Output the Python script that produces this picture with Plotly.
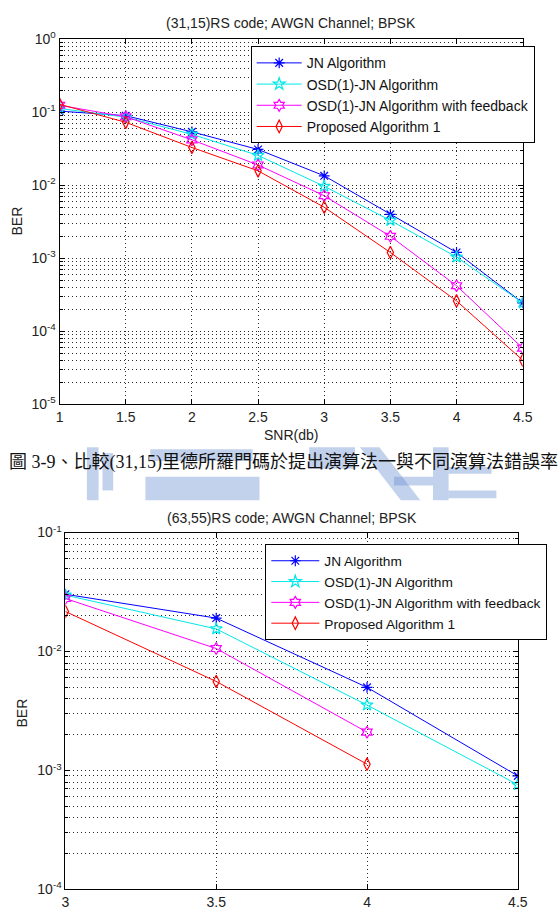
import plotly.graph_objects as go

# ---------------- data ----------------
snr_31 = [1, 1.5, 2, 2.5, 3, 3.5, 4, 4.5]
jn_31 = [0.104, 0.090, 0.054, 0.031, 0.0135, 0.0040, 0.0012, 0.000245]
osd_31 = [0.113, 0.086, 0.050, 0.0257, 0.0097, 0.0033, 0.00104, 0.000245]
osdfb_31 = [0.125, 0.087, 0.042, 0.019, 0.0072, 0.0020, 0.00042, 0.0000585]
prop_31 = [0.129, 0.073, 0.033, 0.0158, 0.0050, 0.0012, 0.00026, 0.000040]

snr_63 = [3, 3.5, 4, 4.5]
jn_63 = [0.0303, 0.0191, 0.0050, 0.00090]
osd_63 = [0.0298, 0.0155, 0.00355, 0.00076]
osdfb_63 = [0.0279, 0.0106, 0.0021, None]
prop_63 = [0.0217, 0.0056, 0.00113, None]

series_names = ["JN Algorithm", "OSD(1)-JN Algorithm",
                "OSD(1)-JN Algorithm with feedback", "Proposed Algorithm 1"]
series_colors = ["#0000ff", "#00e8e8", "#ff00ff", "#ff0000"]
series_symbols = ["asterisk-open", "star-open", "hexagram-open", "diamond-tall-open"]

top_decades = [-5, -4, -3, -2, -1, 0]
top_ticktext = ["10<sup>-5</sup>", "10<sup>-4</sup>", "10<sup>-3</sup>",
                "10<sup>-2</sup>", "10<sup>-1</sup>", "10<sup>0</sup>"]
bot_decades = [-4, -3, -2, -1]
bot_ticktext = ["10<sup>-4</sup>", "10<sup>-3</sup>", "10<sup>-2</sup>", "10<sup>-1</sup>"]

title_top = "(31,15)RS code; AWGN Channel; BPSK"
title_bot = "(63,55)RS code; AWGN Channel; BPSK"
xlabel = "SNR(db)"
ylabel = "BER"
caption = "圖 3-9、比較(31,15)里德所羅門碼於提出演算法一與不同演算法錯誤率"

# ---------------- layout helpers ----------------
W, H = 560, 920
def px(x):
    return x / W
def py(y):
    return 1 - y / H

FONT = "Liberation Sans, Arial, Helvetica, sans-serif"
GRID = "#2a2a2a"
GDASH = "1px,3px"

fig = go.Figure()

top_sets = [jn_31, osd_31, osdfb_31, prop_31]
bot_sets = [jn_63, osd_63, osdfb_63, prop_63]
for name, col, sym, ys in zip(series_names, series_colors, series_symbols, top_sets):
    fig.add_trace(go.Scatter(
        x=snr_31, y=ys, name=name, mode="lines+markers",
        line=dict(color=col, width=1),
        marker=dict(symbol=sym, size=9, color=col, line=dict(color=col, width=1.2)),
        xaxis="x", yaxis="y", legend="legend"))
for name, col, sym, ys in zip(series_names, series_colors, series_symbols, bot_sets):
    fig.add_trace(go.Scatter(
        x=snr_63, y=ys, name=name, mode="lines+markers",
        line=dict(color=col, width=1),
        marker=dict(symbol=sym, size=9, color=col, line=dict(color=col, width=1.2)),
        xaxis="x2", yaxis="y2", legend="legend2"))

def minor_vals(decs):
    vals = []
    for d in decs[:-1]:
        for m in range(2, 10):
            vals.append(m * 10 ** d)
    return vals

common_axis = dict(
    showline=True, linecolor="black", linewidth=1, mirror="allticks",
    ticks="inside", ticklen=5, tickcolor="black",
    showgrid=True, gridcolor=GRID, griddash=GDASH, gridwidth=1,
    zeroline=False, tickfont=dict(family=FONT, size=14, color="#222"),
)

def log_axis(decs, texts, domain, anchor):
    d = dict(common_axis)
    d.update(dict(
        type="log", range=[decs[0], decs[-1]], domain=domain, anchor=anchor,
        tickmode="array", tickvals=[10 ** k for k in decs], ticktext=texts,
        minor=dict(tickmode="array", tickvals=minor_vals(decs), ticks="inside",
                   ticklen=3, tickcolor="black", showgrid=True,
                   gridcolor=GRID, griddash=GDASH, gridwidth=1),
    ))
    return d

def lin_axis(rng, domain, anchor):
    d = dict(common_axis)
    d.update(dict(range=rng, domain=domain, anchor=anchor, dtick=0.5, tick0=0))
    return d

fig.update_layout(
    width=W, height=H, margin=dict(l=0, r=0, t=0, b=0),
    paper_bgcolor="white", plot_bgcolor="white",
    xaxis=lin_axis([1, 4.5], [px(57), px(532)], "y"),
    yaxis=log_axis(top_decades, top_ticktext, [py(402), py(30)], "x"),
    xaxis2=lin_axis([3, 4.5], [px(63), px(527)], "y2"),
    yaxis2=log_axis(bot_decades, bot_ticktext, [py(897), py(533)], "x2"),
    legend=dict(x=px(253), y=py(37), xanchor="left", yanchor="top",
                bgcolor="white", bordercolor="black", borderwidth=1,
                font=dict(family=FONT, size=14, color="#111"), itemwidth=45),
    legend2=dict(x=px(268), y=py(545), xanchor="left", yanchor="top",
                 bgcolor="white", bordercolor="black", borderwidth=1,
                 font=dict(family=FONT, size=13.7, color="#111"), itemwidth=48),
    showlegend=True,
)

ann_font = dict(family=FONT, size=14, color="#222")
annotations = [
    dict(text=title_top, x=px(294.5), y=py(13)),
    dict(text=title_bot, x=px(295), y=py(518)),
    dict(text=xlabel, x=px(294), y=py(433)),
    dict(text=ylabel, x=px(13), y=py(215), textangle=-90),
    dict(text=ylabel, x=px(18), y=py(717), textangle=-90),
]
for a in annotations:
    a.update(dict(xref="paper", yref="paper", showarrow=False,
                  xanchor="center", yanchor="middle", font=ann_font))
annotations.append(dict(text=caption, x=px(3), y=py(462), xref="paper", yref="paper",
                        showarrow=False, xanchor="left", yanchor="middle",
                        font=dict(family="Liberation Serif, Noto Sans CJK TC", size=18,
                                  color="#111")))
fig.update_layout(annotations=annotations)

# light-blue watermark behind the caption (approximate blocks)
wm = "rgba(110,145,210,0.42)"
blocks = [(85, 446, 97, 500), (101, 452, 112, 490), (150, 448, 255, 460),
          (145, 476, 262, 500), (313, 446, 360, 468), (440, 446, 456, 500),
          (456, 466, 500, 473), (456, 490, 505, 498), (400, 476, 440, 485)]
shapes = []
for x0, y0, x1, y1 in blocks:
    shapes.append(dict(type="rect", xref="paper", yref="paper",
                       x0=px(x0), x1=px(x1), y0=py(y1), y1=py(y0),
                       fillcolor=wm, line=dict(width=0), layer="below"))
shapes.append(dict(type="path", xref="paper", yref="paper",
                   path=f"M {px(365)} {py(446)} L {px(385)} {py(446)} L {px(427)} {py(500)} L {px(407)} {py(500)} Z",
                   fillcolor=wm, line=dict(width=0), layer="below"))
fig.update_layout(shapes=shapes)

fig.write_html("out.html")
